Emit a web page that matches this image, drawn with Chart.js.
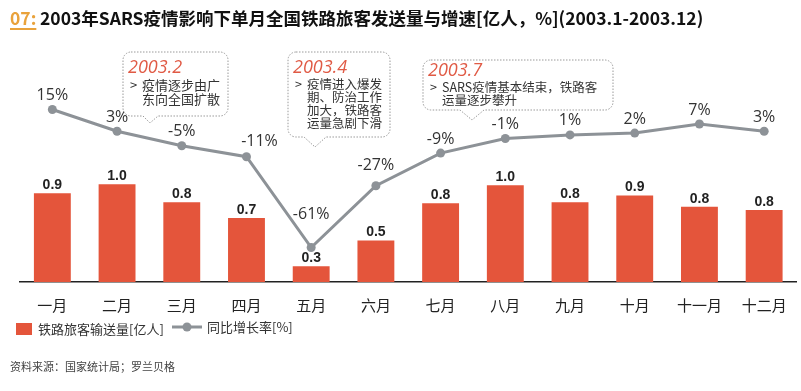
<!DOCTYPE html>
<html>
<head>
<meta charset="utf-8">
<script src="https://cdn.jsdelivr.net/npm/chart.js@4/dist/chart.umd.min.js"></script>
<style>
  html, body { margin:0; padding:0; background:#fff; }
  #wrap { position:relative; width:801px; height:391px; }
</style>
</head>
<body>
<div id="wrap"><canvas id="chart" width="801" height="391"></canvas></div>
<script>
// ---- data ----
const months     = ['一月','二月','三月','四月','五月','六月','七月','八月','九月','十月','十一月','十二月'];
const passengers = [0.92, 1.0, 0.84, 0.70, 0.27, 0.50, 0.83, 0.99, 0.84, 0.90, 0.80, 0.77];  // 亿人
const growth     = [15, 3, -5, -11, -61, -27, -9, -1, 1, 2, 7, 3];                           // %

const RED  = '#E4553B';
const GREY = '#8D9297';
const CJK  = '"Noto Sans CJK SC", "Noto Sans", sans-serif';

// callout boxes
const notes = [
  { title:'2003.2', lines:['疫情逐步由广','东向全国扩散'], box:[123,52,105,64], tip:[143,158,150,123], tY:21, lY:33, lh:14.5, fs:13 },
  { title:'2003.4', lines:['疫情进入爆发','期、防治工作','加大，铁路客','运量急剧下滑'], box:[288,52,102,85], tip:[304,326,315,147], tY:21, lY:32, lh:13.2, fs:12.5 },
  { title:'2003.7', lines:['SARS疫情基本结束，铁路客','运量逐步攀升'], box:[423,60,190,50], tip:[460,484,472,120], tY:16, lY:27.5, lh:12.5, fs:12.5 },
];

function roundRectPath(ctx, x, y, w, h, r, tip) {
  ctx.beginPath();
  ctx.moveTo(x + r, y);
  ctx.lineTo(x + w - r, y);
  ctx.arcTo(x + w, y, x + w, y + r, r);
  ctx.lineTo(x + w, y + h - r);
  ctx.arcTo(x + w, y + h, x + w - r, y + h, r);
  ctx.lineTo(tip[1], y + h);
  ctx.lineTo(tip[2], tip[3]);
  ctx.lineTo(tip[0], y + h);
  ctx.lineTo(x + r, y + h);
  ctx.arcTo(x, y + h, x, y + h - r, r);
  ctx.lineTo(x, y + r);
  ctx.arcTo(x, y, x + r, y, r);
  ctx.closePath();
}

const decorPlugin = {
  id: 'decor',
  afterDatasetsDraw(chart) {
    const ctx = chart.ctx;
    ctx.save();

    // bar value labels
    const barMeta = chart.getDatasetMeta(1);
    ctx.font = 'bold 14px "Liberation Sans Narrow", "Liberation Sans", Arial, sans-serif';
    ctx.fillStyle = '#222';
    ctx.textAlign = 'center';
    ctx.textBaseline = 'alphabetic';
    barMeta.data.forEach((bar, i) => {
      ctx.fillText(passengers[i].toFixed(1), bar.x, bar.y - 4);
    });

    // growth labels
    const lineMeta = chart.getDatasetMeta(0);
    ctx.font = '16px "Open Sans", "Noto Sans", sans-serif';
    ctx.fillStyle = '#333';
    ctx.textBaseline = 'middle';
    lineMeta.data.forEach((pt, i) => {
      let dx = 0, dy = -14;
      if (i === 3) { dx = 13; dy = -15; }
      if (i === 4) { dy = -33; }
      if (i === 5) { dy = -20; }
      ctx.fillText(growth[i] + '%', pt.x + dx, pt.y + dy);
    });

    // callouts
    notes.forEach(n => {
      const [x, y, w, h] = n.box;
      roundRectPath(ctx, x, y, w, h, 8, n.tip);
      ctx.fillStyle = '#fff';
      ctx.fill();
      ctx.setLineDash([1.5, 1.5]);
      ctx.strokeStyle = '#9a9a9a';
      ctx.lineWidth = 1;
      ctx.stroke();
      ctx.setLineDash([]);

      ctx.textAlign = 'left';
      ctx.textBaseline = 'alphabetic';
      ctx.fillStyle = '#E05A45';
      ctx.font = 'italic 18px "Open Sans", "Noto Sans", sans-serif';
      ctx.fillText(n.title, x + 5, y + n.tY);

      ctx.fillStyle = '#333';
      ctx.font = n.fs + 'px ' + CJK;
      ctx.textBaseline = 'middle';
      ctx.fillText('>', x + 7, y + n.lY);
      n.lines.forEach((l, j) => ctx.fillText(l, x + 19, y + n.lY + j * n.lh));
    });

    ctx.restore();
  },
  afterDraw(chart) {
    const ctx = chart.ctx;
    ctx.save();
    // title
    ctx.textBaseline = 'alphabetic';
    ctx.textAlign = 'left';
    ctx.font = 'bold 17.5px ' + CJK;
    ctx.fillStyle = '#E9A23B';
    ctx.fillText('07:', 10, 25);
    ctx.fillRect(10, 28, ctx.measureText('07:').width, 2);
    ctx.fillStyle = '#111';
    ctx.fillText('2003年SARS疫情影响下单月全国铁路旅客发送量与增速[亿人，%](2003.1-2003.12)', 40, 25);

    // legend
    ctx.fillStyle = RED;
    ctx.fillRect(16, 323, 16, 12);
    ctx.fillStyle = '#333';
    ctx.font = '13px ' + CJK;
    ctx.textBaseline = 'middle';
    ctx.fillText('铁路旅客输送量[亿人]', 38, 329);
    ctx.strokeStyle = GREY;
    ctx.lineWidth = 3;
    ctx.beginPath(); ctx.moveTo(172, 327); ctx.lineTo(202, 327); ctx.stroke();
    ctx.fillStyle = GREY;
    ctx.beginPath(); ctx.arc(187, 327, 4.5, 0, Math.PI * 2); ctx.fill();
    ctx.fillStyle = '#333';
    ctx.fillText('同比增长率[%]', 207, 327);

    // source
    ctx.font = '11px ' + CJK;
    ctx.fillStyle = '#444';
    ctx.fillText('资料来源：国家统计局；罗兰贝格', 10, 367);
    ctx.restore();
  }
};

new Chart(document.getElementById('chart'), {
  data: {
    labels: months,
    datasets: [{
      type: 'line',
      label: '同比增长率[%]',
      data: growth,
      yAxisID: 'y2',
      borderColor: GREY,
      backgroundColor: GREY,
      borderWidth: 3,
      pointRadius: 4.5,
      pointBackgroundColor: GREY,
      pointBorderWidth: 0,
      tension: 0,
      order: 0,
    }, {
      type: 'bar',
      label: '铁路旅客输送量[亿人]',
      data: passengers,
      yAxisID: 'y',
      backgroundColor: RED,
      barPercentage: 0.57,
      categoryPercentage: 1.0,
      order: 1,
    }]
  },
  options: {
    responsive: false,
    animation: false,
    events: [],
    layout: { padding: { top: 55, left: 20, right: 0, bottom: 71 } },
    plugins: { legend: { display: false }, tooltip: { enabled: false } },
    scales: {
      x: {
        grid: { display: false },
        border: { display: true, color: '#222', width: 1.5 },
        ticks: { color: '#222', padding: 6, font: { size: 15, family: CJK } }
      },
      y:  { display: false, min: 0.13, max: 2.15 },
      y2: { display: false, position: 'right', min: -80, max: 45 }
    }
  },
  plugins: [decorPlugin]
});
</script>
</body>
</html>
